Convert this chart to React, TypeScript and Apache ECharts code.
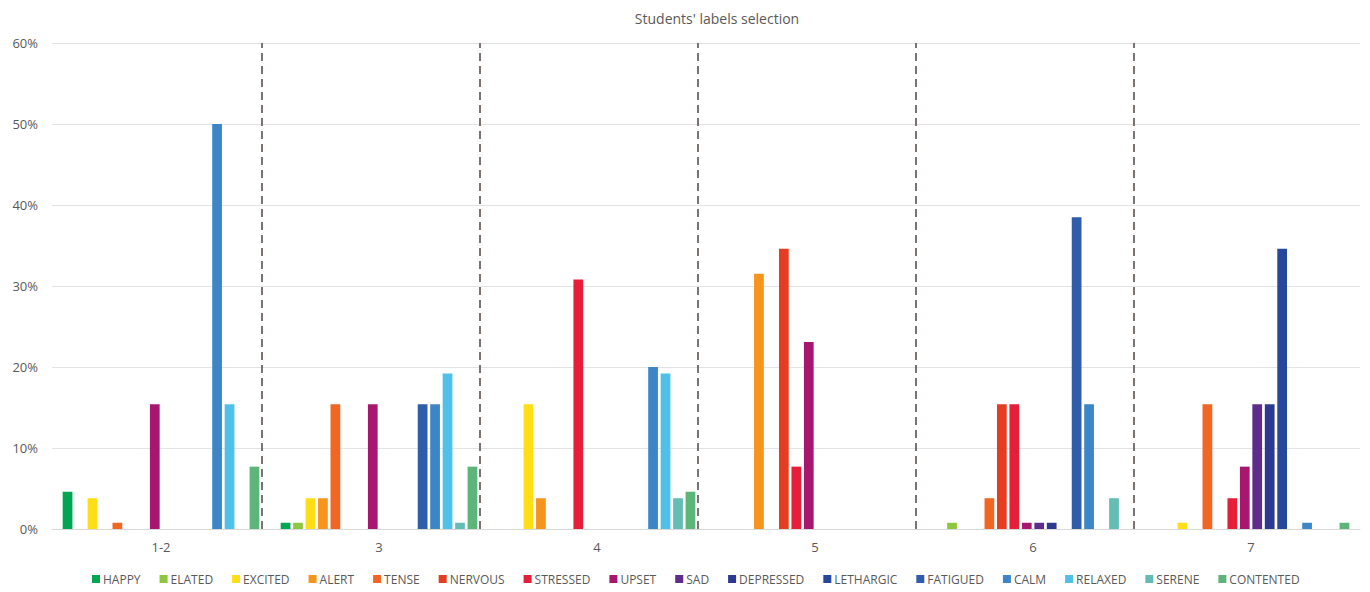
import React, { useEffect, useRef } from "react";
import * as echarts from "echarts";

const categories = ["1-2", "3", "4", "5", "6", "7"];

const seriesNames = [
  "HAPPY", "ELATED", "EXCITED", "ALERT", "TENSE", "NERVOUS", "STRESSED", "UPSET",
  "SAD", "DEPRESSED", "LETHARGIC", "FATIGUED", "CALM", "RELAXED", "SERENE", "CONTENTED",
];

const seriesColors = [
  "#00A651", "#8DC63F", "#FFDD17", "#F7941D", "#F26522", "#E43D22", "#E51E3A", "#A8176F",
  "#5E2C8A", "#2B3990", "#27479C", "#2F5DA9", "#3C85C6", "#4FC1E9", "#63BDB5", "#5DB57A",
];

// values in percent, one array per label, across categories 1-2,3,4,5,6,7
const happy = [4.6, 0.77, 0, 0, 0, 0];
const elated = [0, 0.77, 0, 0, 0.77, 0];
const excited = [3.8, 3.8, 15.4, 0, 0, 0.77];
const alert = [0, 3.8, 3.8, 31.5, 0, 0];
const tense = [0.77, 15.4, 0, 0, 3.8, 15.4];
const nervous = [0, 0, 0, 34.6, 15.4, 0];
const stressed = [0, 0, 30.8, 7.7, 15.4, 3.8];
const upset = [15.4, 15.4, 0, 23.1, 0.77, 7.7];
const sad = [0, 0, 0, 0, 0.77, 15.4];
const depressed = [0, 0, 0, 0, 0.77, 15.4];
const lethargic = [0, 0, 0, 0, 0, 34.6];
const fatigued = [0, 15.4, 0, 0, 38.5, 0];
const calm = [50, 15.4, 20, 0, 15.4, 0.77];
const relaxed = [15.4, 19.2, 19.2, 0, 0, 0];
const serene = [0, 0.77, 3.8, 0, 3.8, 0];
const contented = [7.7, 7.7, 4.6, 0, 0, 0.77];

const seriesValues = [
  happy, elated, excited, alert, tense, nervous, stressed, upset,
  sad, depressed, lethargic, fatigued, calm, relaxed, serene, contented,
];

// dashed separators, in category units on a hidden value axis (0..6)
const separatorPositions = [0.958, 1.958, 2.958, 3.958, 4.958];

const yTicks = [0, 10, 20, 30, 40, 50, 60];

const FONT = "'Open Sans', 'Noto Sans', sans-serif";

export default function App() {
  const ref = useRef<HTMLDivElement>(null);

  useEffect(() => {
    if (!ref.current) return;
    const chart = echarts.init(ref.current, undefined, { renderer: "svg" });

    const barSeries = seriesNames.map((name, i) => ({
      name,
      type: "bar",
      xAxisIndex: 0,
      yAxisIndex: 0,
      data: seriesValues[i],
      itemStyle: { color: seriesColors[i] },
      barGap: "28%",
      barCategoryGap: "9.8%",
    }));

    const option = {
      animation: false,
      backgroundColor: "#ffffff",
      textStyle: { fontFamily: FONT },
      title: {
        text: "Students' labels selection",
        left: 712,
        top: 6,
        textAlign: "center",
        textStyle: { fontFamily: FONT, fontSize: 14, fontWeight: "normal", color: "#595959" },
      },
      legend: {
        data: seriesNames,
        left: 87,
        top: 568,
        itemWidth: 8,
        itemHeight: 8,
        itemGap: 19,
        icon: "rect",
        textStyle: { fontFamily: FONT, fontSize: 12, color: "#595959", padding: [0, 0, 0, -2] },
      },
      grid: { left: 52, right: 10, top: 43, bottom: 63, containLabel: false },
      xAxis: [
        {
          type: "category",
          data: categories,
          axisLine: { show: true, lineStyle: { color: "#d9d9d9", width: 1 } },
          axisTick: { show: false },
          axisLabel: { color: "#595959", fontSize: 13, fontFamily: FONT, margin: 11 },
          splitLine: { show: false },
        },
        {
          type: "value",
          min: 0,
          max: 6,
          show: false,
        },
      ],
      yAxis: {
        type: "value",
        min: yTicks[0],
        max: yTicks[yTicks.length - 1],
        interval: 10,
        axisLine: { show: false },
        axisTick: { show: false },
        axisLabel: { formatter: "{value}%", color: "#595959", fontSize: 13, fontFamily: FONT, margin: 14 },
        splitLine: { show: true, lineStyle: { color: "#e3e3e3", width: 1 } },
      },
      series: [
        ...barSeries,
        {
          name: "separators",
          type: "line",
          xAxisIndex: 1,
          yAxisIndex: 0,
          data: [[0, 0], [6, 0]],
          symbol: "none",
          lineStyle: { opacity: 0 },
          silent: true,
          markLine: {
            silent: true,
            symbol: ["none", "none"],
            label: { show: false },
            lineStyle: { color: "#7a7370", type: [8, 5], width: 2 },
            data: separatorPositions.map((x) => ({ xAxis: x })),
          },
        },
      ],
    };

    chart.setOption(option as any);
    return () => chart.dispose();
  }, []);

  return (
    <div
      ref={ref}
      style={{ position: "fixed", left: 0, top: 0, width: 1370, height: 592 }}
    />
  );
}
